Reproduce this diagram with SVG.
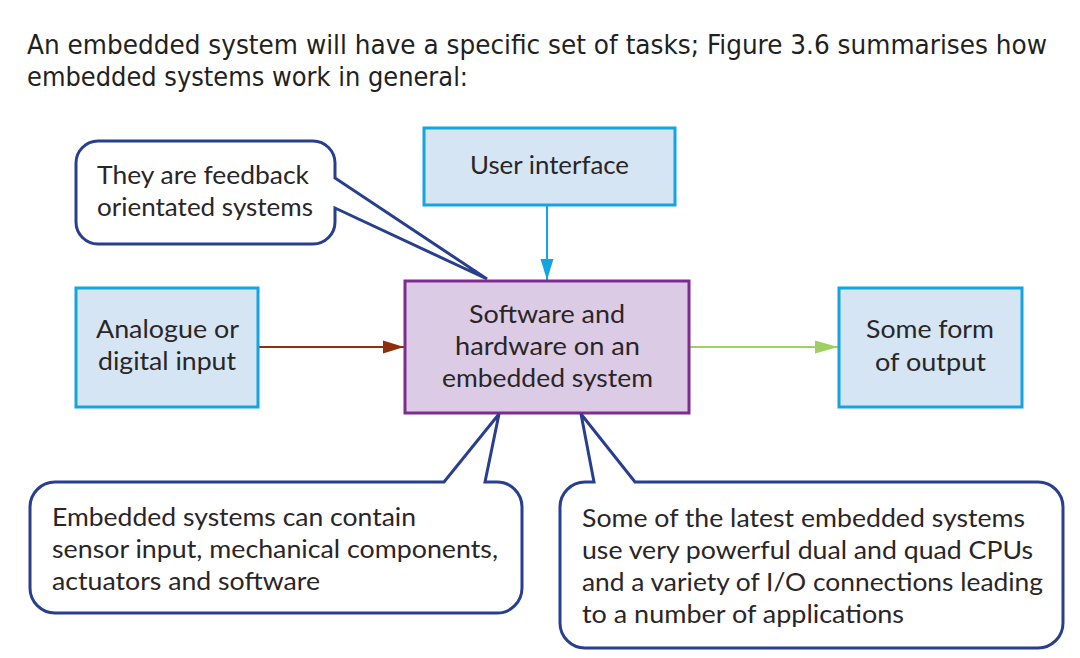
<svg xmlns="http://www.w3.org/2000/svg" width="1080" height="658" viewBox="0 0 1080 658">
<style>
.hdr{font-family:"DejaVu Sans Condensed","DejaVu Sans",sans-serif;font-stretch:condensed;font-size:27px;fill:#231f20}
.t{font-family:Lato,"Open Sans","Liberation Sans",sans-serif;font-size:25px;fill:#2a2526}
.c{text-anchor:middle}
.blue{fill:#d5e5f4;stroke:#14a4df;stroke-width:3}
.purple{fill:#dccbe4;stroke:#7e2c90;stroke-width:3}
.callout{fill:#ffffff;stroke:#283f8f;stroke-width:3;stroke-linejoin:miter}
</style>
<defs>
<marker id="ah-cyan" markerUnits="userSpaceOnUse" markerWidth="22" markerHeight="14" refX="21" refY="7" orient="auto"><path d="M0,0.5 L21,7 L0,13.5 Z" fill="#14a4df"/></marker>
<marker id="ah-brown" markerUnits="userSpaceOnUse" markerWidth="22" markerHeight="14" refX="21" refY="7" orient="auto"><path d="M0,0.5 L21,7 L0,13.5 Z" fill="#8e2f0c"/></marker>
<marker id="ah-green" markerUnits="userSpaceOnUse" markerWidth="24" markerHeight="14" refX="23" refY="7" orient="auto"><path d="M0,0.5 L23,7 L0,13.5 Z" fill="#9fd063"/></marker>
</defs>
<rect width="1080" height="658" fill="#ffffff"/>
<g id="header">
<text class="hdr" x="27" y="54" textLength="1020" lengthAdjust="spacingAndGlyphs">An embedded system will have a specific set of tasks; Figure 3.6 summarises how</text>
<text class="hdr" x="27" y="86" textLength="441" lengthAdjust="spacingAndGlyphs">embedded systems work in general:</text>
</g>
<g id="connectors">
<line x1="547" y1="206" x2="547" y2="280" stroke="#14a4df" stroke-width="2" marker-end="url(#ah-cyan)"/>
<line x1="259" y1="347" x2="404" y2="347" stroke="#8e2f0c" stroke-width="2" marker-end="url(#ah-brown)"/>
<line x1="690" y1="347" x2="838" y2="347" stroke="#9fd063" stroke-width="2" marker-end="url(#ah-green)"/>
</g>
<g id="node-user-interface">
<rect class="blue" x="424" y="128" width="251" height="77"/>
<text class="t" x="470" y="174" textLength="159" lengthAdjust="spacingAndGlyphs">User interface</text>
</g>
<g id="node-core">
<rect class="purple" x="405" y="281" width="284" height="132"/>
<text class="t" x="469" y="323" textLength="156" lengthAdjust="spacingAndGlyphs">Software and</text>
<text class="t" x="455" y="355" textLength="185" lengthAdjust="spacingAndGlyphs">hardware on an</text>
<text class="t" x="442" y="387" textLength="211" lengthAdjust="spacingAndGlyphs">embedded system</text>
</g>
<g id="node-input">
<rect class="blue" x="76" y="288" width="182" height="119"/>
<text class="t" x="96" y="338" textLength="143" lengthAdjust="spacingAndGlyphs">Analogue or</text>
<text class="t" x="98" y="370" textLength="138" lengthAdjust="spacingAndGlyphs">digital input</text>
</g>
<g id="node-output">
<rect class="blue" x="839" y="288" width="183" height="119"/>
<text class="t" x="866" y="338" textLength="128" lengthAdjust="spacingAndGlyphs">Some form</text>
<text class="t" x="875" y="371" textLength="111" lengthAdjust="spacingAndGlyphs">of output</text>
</g>
<g id="callout-feedback">
<path class="callout" d="M98,141 H313 A22,22 0 0 1 335,163 V178 L487,279 L335,208 V222 A22,22 0 0 1 313,244 H98 A22,22 0 0 1 76,222 V163 A22,22 0 0 1 98,141 Z"/>
<text class="t" x="97" y="184" textLength="212" lengthAdjust="spacingAndGlyphs">They are feedback</text>
<text class="t" x="97" y="216" textLength="216" lengthAdjust="spacingAndGlyphs">orientated systems</text>
</g>
<g id="callout-contain">
<path class="callout" d="M55,482 H444 L499,414 L485,482 H497 A25,25 0 0 1 522,507 V588 A25,25 0 0 1 497,613 H55 A25,25 0 0 1 30,588 V507 A25,25 0 0 1 55,482 Z"/>
<text class="t" x="52" y="526" textLength="364" lengthAdjust="spacingAndGlyphs">Embedded systems can contain</text>
<text class="t" x="52" y="558" textLength="446" lengthAdjust="spacingAndGlyphs">sensor input, mechanical components,</text>
<text class="t" x="52" y="590" textLength="268" lengthAdjust="spacingAndGlyphs">actuators and software</text>
</g>
<g id="callout-cpus">
<path class="callout" d="M585,482 H594 L581,414 L635,482 H1038 A25,25 0 0 1 1063,507 V623 A25,25 0 0 1 1038,648 H585 A25,25 0 0 1 560,623 V507 A25,25 0 0 1 585,482 Z"/>
<text class="t" x="582" y="527" textLength="443" lengthAdjust="spacingAndGlyphs">Some of the latest embedded systems</text>
<text class="t" x="582" y="559" textLength="451" lengthAdjust="spacingAndGlyphs">use very powerful dual and quad CPUs</text>
<text class="t" x="582" y="591" textLength="461" lengthAdjust="spacingAndGlyphs">and a variety of I/O connections leading</text>
<text class="t" x="582" y="623" textLength="322" lengthAdjust="spacingAndGlyphs">to a number of applications</text>
</g>
</svg>
